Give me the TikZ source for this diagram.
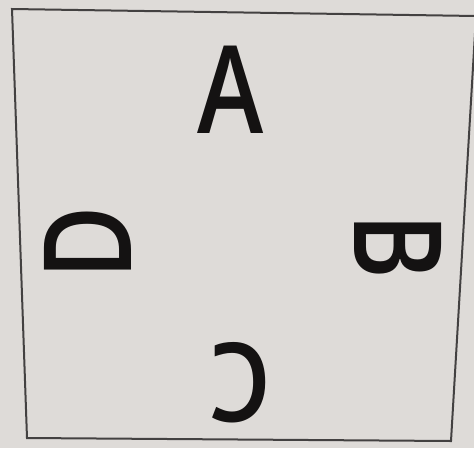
\documentclass[tikz,border=0pt]{standalone}
\usepackage{fontspec}
\newfontfamily\signfont{Open Sans}[UprightFont=* Semibold, FakeStretch=0.82]
\definecolor{paper}{RGB}{222,219,216}
\definecolor{ink}{RGB}{20,18,18}
\tikzset{
  letter/.style={inner sep=0pt, text=ink, font=\signfont\fontsize{122}{122}\selectfont},
  frame/.style={draw=ink!80, line width=2pt}
}
\begin{document}
\begin{tikzpicture}[x=1pt, y=-1pt]
  % --- background of the photo ---
  \fill[paper] (0,0) rectangle (474,448);
  \useasboundingbox (0,0) rectangle (474,448);
  % --- the slightly skewed square ---
  \coordinate (tl) at (12,9);
  \coordinate (tr) at (476,16);
  \coordinate (br) at (451,441);
  \coordinate (bl) at (27,438);
  \draw[frame] (tr) -- (tl) -- (bl) -- (br) -- cycle;
  % --- the four letters, each turned ---
  \node[letter] (A) at (231,90) {A};
  \node[letter, rotate=-90] (B) at (398,247) {B};
  \node[letter, rotate=180, xscale=0.98, yscale=0.9] (C) at (240,383) {C};
  \node[letter, rotate=90] (D) at (88,243) {D};
\end{tikzpicture}
\end{document}
